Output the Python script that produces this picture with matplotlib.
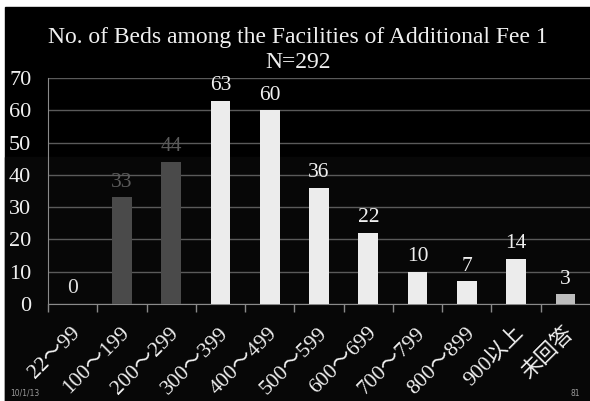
import matplotlib.pyplot as plt
import matplotlib.patches as mpatches
import matplotlib.transforms as mtransforms
import numpy as np

categories = ['22〜99', '100〜199', '200〜299', '300〜399', '400〜499', '500〜599',
              '600〜699', '700〜799', '800〜899', '900以上', '未回答']
counts = [0, 33, 44, 63, 60, 36, 22, 10, 7, 14, 3]
bar_colors = ['#4a4a4a'] * 3 + ['#ececec'] * 7 + ['#bdbdbd']
label_colors = ['#e0e0e0', '#5a5a5a', '#5a5a5a'] + ['#f0f0f0'] * 8
yticks = [0, 10, 20, 30, 40, 50, 60, 70]

serif = ['Liberation Serif', 'Noto Sans CJK JP']

fig = plt.figure(figsize=(5.9, 4.01), dpi=100, facecolor='white')
# slide background (black, very slightly lighter lower part)
fig.patches.append(mpatches.Rectangle((5 / 590, 0), 1, (401 - 7) / 401,
                                      transform=fig.transFigure, color='#000000', zorder=-10))
fig.patches.append(mpatches.Rectangle((5 / 590, 0), 1, (401 - 157) / 401,
                                      transform=fig.transFigure, color='#070707', zorder=-9))

ax = fig.add_axes([48 / 590, (401 - 304) / 401, 542 / 590, 226 / 401])
ax.set_facecolor('none')

x = np.arange(len(categories))
ax.bar(x, counts, width=0.4, color=bar_colors, zorder=3)
for xi, v, c in zip(x, counts, label_colors):
    ax.annotate(str(v), (xi, v), xytext=(0, 4), textcoords='offset points',
                ha='center', va='bottom', fontsize=15.5, color=c, family=serif)

ax.set_xlim(-0.5, len(categories) - 0.5)
ax.set_ylim(0, 70)
ax.set_yticks(yticks)
ax.set_yticklabels([str(t) for t in yticks], fontsize=16, color='#f0f0f0', family=serif)
ax.yaxis.grid(True, color='#5a5a5a', linewidth=1)
ax.tick_params(axis='y', length=0, pad=12)

ax.set_xticks(x)
ax.set_xticklabels(categories, rotation=45, ha='right', va='center', rotation_mode='anchor',
                   fontsize=15.5, color='#f0f0f0', family=serif)
ax.set_xticks(np.arange(len(categories)) - 0.5, minor=True)
ax.tick_params(axis='x', which='major', length=0, pad=19)
ax.tick_params(axis='x', which='minor', length=6, color='#8a8a8a', width=1)
shift = mtransforms.ScaledTranslation(5 / 100, 0, fig.dpi_scale_trans)
for lbl in ax.get_xticklabels():
    lbl.set_transform(lbl.get_transform() + shift)

for side in ['top', 'right']:
    ax.spines[side].set_visible(False)
ax.spines['left'].set_color('#8a8a8a')
ax.spines['bottom'].set_color('#8a8a8a')
ax.set_axisbelow(True)

fig.text(298 / 590, 1 - 38 / 401, 'No. of Beds among the Facilities of Additional Fee 1',
         ha='center', va='center', fontsize=17, color='#f0f0f0', family=serif)
fig.text(298 / 590, 1 - 62 / 401, 'N=292', ha='center', va='center', fontsize=17,
         color='#f0f0f0', family=serif)
fig.text(10 / 590, 3 / 401, '10/1/13', ha='left', va='bottom', fontsize=5.5, color='#9a9a9a')
fig.text(580 / 590, 3 / 401, '81', ha='right', va='bottom', fontsize=5.5, color='#9a9a9a')

fig.savefig('out.png', dpi=100, facecolor=fig.get_facecolor())
